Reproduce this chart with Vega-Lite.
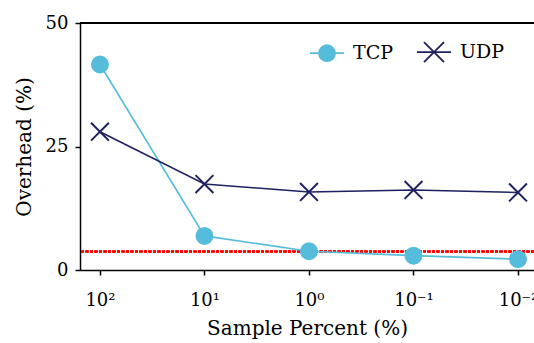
{
  "$schema": "https://vega.github.io/schema/vega-lite/v6.json",
  "width": 454,
  "height": 247,
  "autosize": "none",
  "padding": {"left": 80, "top": 23, "right": 0, "bottom": 73},
  "background": "white",
  "config": {
    "view": {"stroke": null},
    "font": "DejaVu Serif",
    "axis": {
      "grid": false,
      "domainColor": "black",
      "domainWidth": 1.5,
      "tickColor": "black",
      "tickWidth": 1.5,
      "tickSize": 5,
      "labelFont": "DejaVu Serif",
      "labelFontSize": 18,
      "labelColor": "black",
      "titleFont": "DejaVu Serif",
      "titleFontSize": 20,
      "titleFontWeight": "normal",
      "titleColor": "black"
    }
  },
  "data": {
    "values": [
      {"percent": 100, "protocol": "TCP", "overhead": 41.6},
      {"percent": 10, "protocol": "TCP", "overhead": 6.9},
      {"percent": 1, "protocol": "TCP", "overhead": 3.8},
      {"percent": 0.1, "protocol": "TCP", "overhead": 2.9},
      {"percent": 0.01, "protocol": "TCP", "overhead": 2.2},
      {"percent": 100, "protocol": "UDP", "overhead": 28.0},
      {"percent": 10, "protocol": "UDP", "overhead": 17.4},
      {"percent": 1, "protocol": "UDP", "overhead": 15.8},
      {"percent": 0.1, "protocol": "UDP", "overhead": 16.2},
      {"percent": 0.01, "protocol": "UDP", "overhead": 15.7}
    ]
  },
  "resolve": {"scale": {"shape": "independent", "fill": "independent", "stroke": "independent"}},
  "layer": [
    {
      "mark": {"type": "rule", "color": "black", "strokeWidth": 1.5},
      "encoding": {"y": {"datum": 50, "type": "quantitative", "scale": {"domain": [0, 50], "nice": false}}}
    },
    {
      "mark": {"type": "rule", "color": "#ff0000", "strokeWidth": 1.5, "strokeDash": [3, 1.5]},
      "encoding": {"y": {"datum": 3.75, "type": "quantitative"}}
    },
    {
      "mark": {"type": "line", "strokeWidth": 1.6},
      "encoding": {
        "x": {
          "field": "percent",
          "type": "quantitative",
          "scale": {"type": "log", "domain": [0.00703, 155.2], "reverse": true, "nice": false},
          "axis": {
            "values": [100, 10, 1, 0.1, 0.01],
            "labelExpr": "'10' + (datum.value >= 99 ? '²' : datum.value >= 9 ? '¹' : datum.value >= 0.9 ? '⁰' : datum.value >= 0.09 ? '⁻¹' : '⁻²')",
            "labelFlush": false,
            "labelOverlap": false,
            "labelPadding": 16,
            "title": "Sample Percent (%)",
            "titlePadding": 9
          }
        },
        "y": {
          "field": "overhead",
          "type": "quantitative",
          "scale": {"domain": [0, 50], "nice": false},
          "axis": {"values": [0, 25, 50], "labelPadding": 7, "title": "Overhead (%)", "titlePadding": 11}
        },
        "stroke": {
          "field": "protocol",
          "type": "nominal",
          "scale": {"domain": ["TCP", "UDP"], "range": ["#56bcdc", "#1f2060"]},
          "legend": null
        }
      }
    },
    {
      "mark": {"type": "point", "strokeWidth": 2, "size": 255, "opacity": 1},
      "encoding": {
        "x": {"field": "percent", "type": "quantitative"},
        "y": {"field": "overhead", "type": "quantitative"},
        "stroke": {
          "field": "protocol",
          "type": "nominal",
          "scale": {"domain": ["TCP", "UDP"], "range": ["#56bcdc", "#1f2060"]},
          "legend": null
        },
        "fill": {
          "field": "protocol",
          "type": "nominal",
          "scale": {"domain": ["TCP", "UDP"], "range": ["#56bcdc", "#1f2060"]},
          "legend": null
        },
        "shape": {
          "field": "protocol",
          "type": "nominal",
          "scale": {"domain": ["TCP", "UDP"], "range": ["circle", "M-1.12,-1.12L1.12,1.12M-1.12,1.12L1.12,-1.12"]},
          "legend": null
        }
      }
    },
    {
      "transform": [{"filter": "false"}],
      "mark": {"type": "point", "strokeWidth": 1.8, "opacity": 1},
      "encoding": {
        "x": {"field": "percent", "type": "quantitative"},
        "y": {"field": "overhead", "type": "quantitative"},
        "stroke": {
          "field": "protocol",
          "type": "nominal",
          "scale": {"domain": ["TCP", "UDP"], "range": ["#56bcdc", "#1f2060"]},
          "legend": {"title": null}
        },
        "fill": {
          "field": "protocol",
          "type": "nominal",
          "scale": {"domain": ["TCP", "UDP"], "range": ["#56bcdc", "#1f2060"]},
          "legend": {"title": null}
        },
        "shape": {
          "field": "protocol",
          "type": "nominal",
          "scale": {
            "domain": ["TCP", "UDP"],
            "range": [
              "M-1,0H1M-0.47,0A0.47,0.47 0 1,1 0.47,0A0.47,0.47 0 1,1 -0.47,0Z",
              "M-1,0H1M-0.59,-0.59L0.59,0.59M-0.59,0.59L0.59,-0.59"
            ]
          },
          "legend": {
            "title": null,
            "orient": "none",
            "legendX": 229,
            "legendY": 11,
            "direction": "horizontal",
            "padding": 0,
            "symbolSize": 1156,
            "symbolStrokeWidth": 1.8,
            "symbolOpacity": 1,
            "labelFont": "DejaVu Serif",
            "labelFontSize": 19,
            "labelColor": "black",
            "labelOffset": 8,
            "columnPadding": 20
          }
        }
      }
    }
  ]
}
